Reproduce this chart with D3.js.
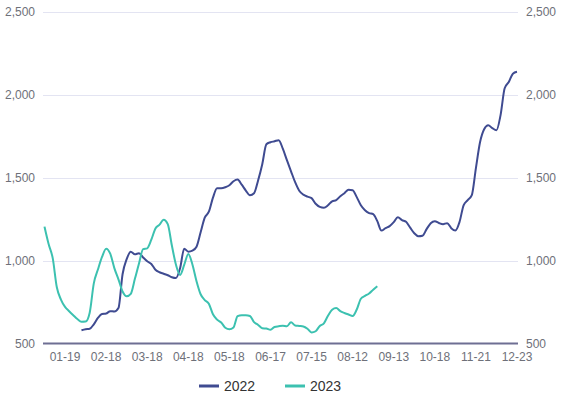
<!DOCTYPE html>
<html>
<head>
<meta charset="utf-8">
<script src="https://cdn.jsdelivr.net/npm/d3@7"></script>
<style>
  body { margin: 0; background: #fff; }
  svg { display: block; font-family: "Liberation Sans", Arial, sans-serif; }
</style>
</head>
<body>
<svg id="chart" width="573" height="398"></svg>
<script>
"use strict";

// x axis labels and the point index they sit on
var tickLabels = ["01-19", "02-18", "03-18", "04-18", "05-18", "06-17",
  "07-15", "08-12", "09-13", "10-18", "11-21", "12-23"];
var tickIndex = [5, 15, 25, 35, 45, 55, 65, 75, 85, 95, 105, 115];
var yTicks = [500, 1000, 1500, 2000, 2500];

// 2022 starts at point 9, 2023 at point 0
var start2022 = 9;
var values2022 = [
  580, 586, 589, 616, 654, 678, 681, 695, 693, 714,
  918, 1009, 1053, 1038, 1045, 1019, 996, 980, 945, 930,
  921, 912, 900, 895, 954, 1072, 1054, 1060, 1084, 1171,
  1259, 1295, 1380, 1437, 1437, 1443, 1455, 1479, 1489, 1458,
  1423, 1395, 1407, 1485, 1582, 1702, 1714, 1720, 1727, 1675,
  1606, 1539, 1473, 1422, 1398, 1386, 1377, 1343, 1324, 1319,
  1334, 1358, 1365, 1389, 1407, 1428, 1425, 1383, 1334, 1304,
  1287, 1280, 1238, 1181, 1196, 1208, 1232, 1262, 1244, 1234,
  1199, 1165, 1147, 1150, 1190, 1226, 1238, 1227, 1220, 1226,
  1196, 1181, 1232, 1334, 1365, 1395, 1558, 1714, 1793, 1817,
  1799, 1787, 1878, 2040, 2077, 2128, 2139
];
var start2023 = 0;
var values2023 = [
  1205, 1100, 1015, 839, 765, 721, 695, 671, 648, 631,
  632, 686, 863, 946, 1022, 1072, 1042, 955, 887, 814,
  785, 800, 890, 983, 1069, 1074, 1126, 1194, 1217, 1247,
  1220, 1091, 975, 914, 974, 1040, 977, 876, 797, 762,
  740, 676, 644, 627, 595, 586, 597, 665, 671, 671,
  666, 629, 612, 592, 590, 583, 600, 604, 607, 604,
  628, 609, 606, 603, 589, 566, 574, 606, 622, 668,
  704, 714, 695, 684, 675, 666, 705, 770, 787, 802,
  825, 846
];

var series = [
  { name: "2022", start: start2022, values: values2022, color: "#3f4b91" },
  { name: "2023", start: start2023, values: values2023, color: "#3cc1b0" }
];

var plotLeft = 43, plotRight = 518, plotTop = 12, plotBottom = 343.5;

var svg = d3.select("#chart");

var x = d3.scaleLinear().domain([0, 115]).range([44.5, 517]);
var y = d3.scaleLinear().domain([500, 2500]).range([plotBottom, plotTop]);
var fmt = d3.format(",");

// grid lines
svg.append("g")
  .selectAll("line")
  .data(yTicks.slice(1))
  .enter()
  .append("line")
  .attr("x1", plotLeft)
  .attr("x2", plotRight)
  .attr("y1", (d) => Math.round(y(d)) + 0.5)
  .attr("y2", (d) => Math.round(y(d)) + 0.5)
  .attr("stroke", "#e3e4f2")
  .attr("stroke-width", 1);

// left and right y labels
[
  { xPos: 35, anchor: "end" },
  { xPos: 526, anchor: "start" }
].forEach((side) => {
  svg.append("g")
    .selectAll("text")
    .data(yTicks)
    .enter()
    .append("text")
    .attr("x", side.xPos)
    .attr("y", (d) => y(d))
    .attr("dy", "0.35em")
    .attr("text-anchor", side.anchor)
    .attr("font-size", 12)
    .attr("fill", "#6e7079")
    .text((d) => fmt(d));
});

// x axis line
svg.append("line")
  .attr("x1", plotLeft)
  .attr("x2", plotRight)
  .attr("y1", plotBottom)
  .attr("y2", plotBottom)
  .attr("stroke", "#6e6f93")
  .attr("stroke-width", 2);

svg.append("g")
  .selectAll("text")
  .data(tickLabels)
  .enter()
  .append("text")
  .attr("x", (d, i) => x(tickIndex[i]))
  .attr("y", 361)
  .attr("text-anchor", "middle")
  .attr("font-size", 12)
  .attr("fill", "#6e7079")
  .text((d) => d);

// lines
var line = d3.line()
  .x((d) => x(d.i))
  .y((d) => y(d.v))
  .curve(d3.curveMonotoneX);

series.forEach((s) => {
  var pts = s.values.map((v, k) => ({ i: s.start + k, v: v }));
  svg.append("path")
    .datum(pts)
    .attr("fill", "none")
    .attr("stroke", s.color)
    .attr("stroke-width", 2)
    .attr("stroke-linejoin", "round")
    .attr("d", line);
});

// legend
var legend = svg.append("g")
  .selectAll("g")
  .data(series)
  .enter()
  .append("g")
  .attr("transform", (d, i) => "translate(" + (199 + i * 86) + ",386)");

legend.append("line")
  .attr("x1", 0)
  .attr("x2", 20)
  .attr("stroke", (d) => d.color)
  .attr("stroke-width", 3);

legend.append("text")
  .attr("x", 25)
  .attr("dy", "0.35em")
  .attr("font-size", 14)
  .attr("fill", "#333")
  .text((d) => d.name);
</script>
</body>
</html>
